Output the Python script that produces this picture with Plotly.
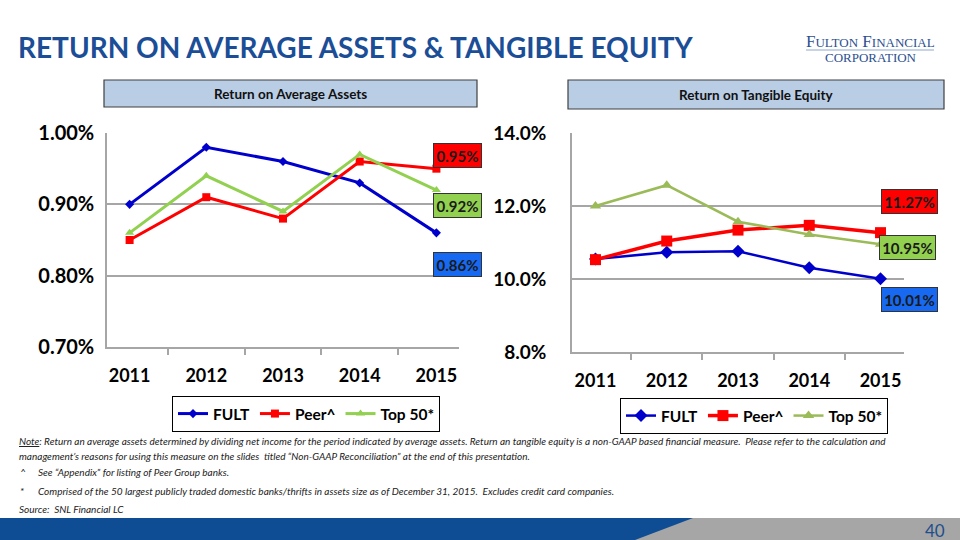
import plotly.graph_objects as go

# ---------------- data ----------------
years = ["2011", "2012", "2013", "2014", "2015"]
series_names = ["FULT", "Peer^", "Top 50*"]

roaa_fult = [0.90, 0.98, 0.96, 0.93, 0.86]
roaa_peer = [0.85, 0.91, 0.88, 0.96, 0.95]
roaa_top50 = [0.86, 0.94, 0.89, 0.97, 0.92]

rote_fult = [10.55, 10.73, 10.76, 10.31, 10.01]
rote_peer = [10.53, 11.04, 11.34, 11.47, 11.27]
rote_top50 = [12.00, 12.57, 11.57, 11.22, 10.95]

roaa_ticks = [0.70, 0.80, 0.90, 1.00]
rote_ticks = [8.0, 10.0, 12.0, 14.0]

title_text = "RETURN ON AVERAGE ASSETS & TANGIBLE EQUITY"
left_title = "Return on Average Assets"
right_title = "Return on Tangible Equity"

footnotes = [
    "<u>Note</u>: Return an average assets determined by dividing net income for the period indicated by average assets. Return an tangible equity is a non-GAAP based financial measure.  Please refer to the calculation and",
    "management\u2019s reasons for using this measure on the slides  titled \u201cNon-GAAP Reconciliation\u201d at the end of this presentation.",
]
foot_marks = ["^", "*"]
foot_marks_text = [
    "See \u201cAppendix\u201d for listing of Peer Group banks.",
    "Comprised of the 50 largest publicly traded domestic banks/thrifts in assets size as of December 31, 2015.  Excludes credit card companies.",
]
source_text = "Source:  SNL Financial LC"
page_no = "40"

# ---------------- style ----------------
W, H = 960, 540
FONT = "Lato, 'Open Sans', sans-serif"
BLUE = "#0000CC"
RED = "#FF0000"
GREEN_L = "#92D050"
GREEN_R = "#9BBB59"
GRID = "#A6A6A6"


def px(x):
    return x / W


def py(y):
    return 1 - y / H


fig = go.Figure()

# left chart traces
fig.add_trace(go.Scatter(x=years, y=roaa_fult, name=series_names[0], mode="lines+markers",
                         line=dict(color=BLUE, width=3), marker=dict(symbol="diamond", size=7, color=BLUE),
                         xaxis="x", yaxis="y", legend="legend"))
fig.add_trace(go.Scatter(x=years, y=roaa_peer, name=series_names[1], mode="lines+markers",
                         line=dict(color=RED, width=3), marker=dict(symbol="square", size=8, color=RED),
                         xaxis="x", yaxis="y", legend="legend"))
fig.add_trace(go.Scatter(x=years, y=roaa_top50, name=series_names[2], mode="lines+markers",
                         line=dict(color=GREEN_L, width=3), marker=dict(symbol="triangle-up", size=8, color=GREEN_L),
                         xaxis="x", yaxis="y", legend="legend"))

# right chart traces
fig.add_trace(go.Scatter(x=years, y=rote_fult, name=series_names[0], mode="lines+markers",
                         line=dict(color=BLUE, width=2.5), marker=dict(symbol="diamond", size=10, color=BLUE),
                         xaxis="x2", yaxis="y2", legend="legend2"))
fig.add_trace(go.Scatter(x=years, y=rote_peer, name=series_names[1], mode="lines+markers",
                         line=dict(color=RED, width=3.5), marker=dict(symbol="square", size=11, color=RED),
                         xaxis="x2", yaxis="y2", legend="legend2"))
fig.add_trace(go.Scatter(x=years, y=rote_top50, name=series_names[2], mode="lines+markers",
                         line=dict(color=GREEN_R, width=2.5), marker=dict(symbol="triangle-up", size=10, color=GREEN_R),
                         xaxis="x2", yaxis="y2", legend="legend2"))

axis_common = dict(showline=True, linecolor=GRID, linewidth=1.5, mirror=False, automargin=False)

legend_common = dict(orientation="h", xanchor="left", yanchor="top", bgcolor="white",
                     bordercolor="#000000", borderwidth=1, itemwidth=30,
                     font=dict(family=FONT, size=15.5, color="#000000", weight="bold"),
                     tracegroupgap=0, itemclick=False)

fig.update_layout(
    width=W, height=H,
    margin=dict(l=0, r=0, t=0, b=0, pad=0, autoexpand=False),
    paper_bgcolor="white", plot_bgcolor="white",
    font=dict(family=FONT, color="#000000"),
    hovermode=False,
    xaxis=dict(domain=[px(107), px(459)], type="category", tickson="boundaries", ticks="outside",
               ticklen=6, tickcolor=GRID, tickwidth=1.5, showgrid=False, anchor="y",
               tickfont=dict(family=FONT, size=18, color="#000000", weight="bold"),
               ticklabelstandoff=12, **axis_common),
    yaxis=dict(domain=[py(347), py(133)], range=[0.70, 1.00], tickvals=roaa_ticks,
               ticktext=[f"{v:.2f}%" for v in roaa_ticks], showgrid=True, gridcolor=GRID, gridwidth=1.5,
               zeroline=False, anchor="x", ticks="",
               tickfont=dict(family=FONT, size=20, color="#000000", weight="bold"),
               ticklabelstandoff=7, **axis_common),
    xaxis2=dict(domain=[px(572), px(904)], type="category", tickson="boundaries", ticks="outside",
                ticklen=6, tickcolor=GRID, tickwidth=1.5, showgrid=False, anchor="y2",
                tickfont=dict(family=FONT, size=18, color="#000000", weight="bold"),
                ticklabelstandoff=12, **axis_common),
    yaxis2=dict(domain=[py(352), py(133)], range=[8.0, 14.0], tickvals=rote_ticks,
                ticktext=[f"{v:.1f}%" for v in rote_ticks], showgrid=True, gridcolor=GRID, gridwidth=1.5,
                zeroline=False, anchor="x2", ticks="",
                tickfont=dict(family=FONT, size=19, color="#000000", weight="bold"),
                ticklabelstandoff=20, **axis_common),
    legend=dict(x=px(172), y=py(396), **legend_common),
    legend2=dict(x=px(620), y=py(398), **legend_common),
    showlegend=True,
)

shapes = []
annotations = []

# bottom band
shapes.append(dict(type="rect", xref="paper", yref="paper", x0=0, x1=1, y0=0, y1=py(518),
                   fillcolor="#A6A6A6", line=dict(width=0), layer="below"))
shapes.append(dict(type="path", xref="paper", yref="paper",
                   path=f"M 0 {py(518)} L {px(693)} {py(518)} L {px(635)} {py(540)} L 0 {py(540)} Z",
                   fillcolor="#0E4C94", line=dict(width=0), layer="below"))
annotations.append(dict(text=page_no, xref="paper", yref="paper", x=px(947), y=py(530),
                        xanchor="right", yanchor="middle", showarrow=False,
                        font=dict(family=FONT, size=17, color="#1F4E8C")))

# title
annotations.append(dict(text=title_text, xref="paper", yref="paper", x=px(16), y=py(47),
                        xanchor="left", yanchor="middle", showarrow=False,
                        font=dict(family=FONT, size=28, color="#1B4E97", weight="bold")))

# logo
annotations.append(dict(text="F<span style='font-size:13px'>ULTON</span> F<span style='font-size:13px'>INANCIAL</span>",
                        xref="paper", yref="paper", x=px(870), y=py(41), xanchor="center", yanchor="middle",
                        showarrow=False, font=dict(family="Liberation Serif, serif", size=17, color="#2B4F8F")))
shapes.append(dict(type="line", xref="paper", yref="paper", x0=px(806), x1=px(934), y0=py(50), y1=py(50),
                   line=dict(color="#8DA9CC", width=1)))
annotations.append(dict(text="CORPORATION", xref="paper", yref="paper", x=px(871), y=py(57.5),
                        xanchor="center", yanchor="middle", showarrow=False,
                        font=dict(family="Liberation Serif, serif", size=13, color="#2B4F8F")))

# subtitle boxes
for (x0, x1, y0, y1, t) in [(104, 477, 80, 107, left_title), (568, 944, 80, 109, right_title)]:
    shapes.append(dict(type="rect", xref="paper", yref="paper", x0=px(x0), x1=px(x1), y0=py(y1), y1=py(y0),
                       fillcolor="#B9CDE5", line=dict(color="#404040", width=1.2)))
    annotations.append(dict(text=t, xref="paper", yref="paper", x=px((x0 + x1) / 2), y=py((y0 + y1) / 2),
                            xanchor="center", yanchor="middle", showarrow=False,
                            font=dict(family=FONT, size=13.5, color="#111111", weight="bold")))

# end value label boxes
label_specs = [
    (roaa_peer[-1], "{:.2f}%", RED, 457.5, 155.5),
    (roaa_top50[-1], "{:.2f}%", GREEN_L, 457.5, 205.5),
    (roaa_fult[-1], "{:.2f}%", "#1669F0", 457.5, 264),
    (rote_peer[-1], "{:.2f}%", RED, 909.5, 201.5),
    (rote_top50[-1], "{:.2f}%", GREEN_L, 907.5, 247),
    (rote_fult[-1], "{:.2f}%", "#1669F0", 909.5, 299),
]
for i, (v, fmt, col, cx, cy) in enumerate(label_specs):
    w = 45 if i < 3 else 53
    annotations.append(dict(text=fmt.format(v), xref="paper", yref="paper", x=px(cx), y=py(cy),
                            xanchor="center", yanchor="middle", showarrow=False,
                            width=w, height=21, bgcolor=col, bordercolor="#333333", borderwidth=1, borderpad=1,
                            font=dict(family=FONT, size=15, color="#1a1a1a", weight="bold")))

# footnotes
foot_font = dict(family=FONT, size=10, color="#222222", style="italic")
annotations.append(dict(text=footnotes[0], xref="paper", yref="paper", x=px(17), y=py(441),
                        xanchor="left", yanchor="middle", showarrow=False, font=foot_font))
annotations.append(dict(text=footnotes[1], xref="paper", yref="paper", x=px(17), y=py(456),
                        xanchor="left", yanchor="middle", showarrow=False, font=foot_font))
for (yy, m, t) in [(472, foot_marks[0], foot_marks_text[0]), (491, foot_marks[1], foot_marks_text[1])]:
    annotations.append(dict(text=m, xref="paper", yref="paper", x=px(18), y=py(yy),
                            xanchor="left", yanchor="middle", showarrow=False, font=foot_font))
    annotations.append(dict(text=t, xref="paper", yref="paper", x=px(36), y=py(yy),
                            xanchor="left", yanchor="middle", showarrow=False, font=foot_font))
annotations.append(dict(text=source_text, xref="paper", yref="paper", x=px(17), y=py(509),
                        xanchor="left", yanchor="middle", showarrow=False, font=foot_font))

fig.update_layout(shapes=shapes, annotations=annotations)

fig.write_html("out.html", config={"displayModeBar": False},
               post_script="document.body.style.margin='0px';")
